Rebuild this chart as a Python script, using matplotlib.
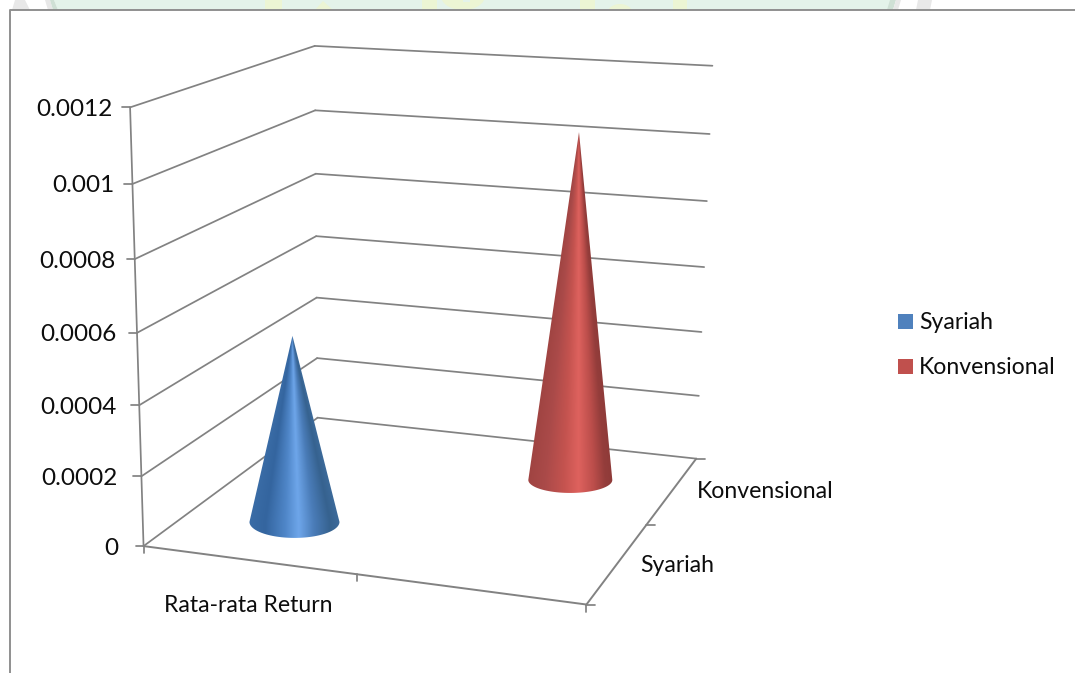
import numpy as np
import matplotlib
matplotlib.use('Agg')
import matplotlib.pyplot as plt
from matplotlib.colors import LinearSegmentedColormap
from matplotlib.patches import Ellipse, Polygon, Rectangle

plt.rcParams['font.family'] = ['Lato', 'DejaVu Sans']

value_ticks = [0, 0.0002, 0.0004, 0.0006, 0.0008, 0.001, 0.0012]
value_labels = ['0', '0.0002', '0.0004', '0.0006', '0.0008', '0.001', '0.0012']
series_names = ['Syariah', 'Konvensional']
category_name = 'Rata-rata Return'
series_values = [0.00054, 0.00104]

VMAX = value_ticks[-1]
GRID = '#828282'
TEXT = '#0d0d0d'

# box corners (x, depth, height) and where they land on the canvas
box_world = np.array([[0, 0, 0], [1, 0, 0], [0, 1, 0], [1, 1, 0],
                      [0, 0, 1], [0, 1, 1], [1, 1, 1]], float)
box_pixels = np.array([[145, 546], [586, 605], [316, 418], [697, 458],
                       [129, 107], [316, 46], [712, 66]], float)

# solve the camera matrix for the 3D box
rows, rhs = [], []
for (X, Y, Z), (u, v) in zip(box_world, box_pixels):
    rows.append([X, Y, Z, 1, 0, 0, 0, 0, -u * X, -u * Y, -u * Z])
    rhs.append(u)
    rows.append([0, 0, 0, 0, X, Y, Z, 1, -v * X, -v * Y, -v * Z])
    rhs.append(v)
cam = np.append(np.linalg.lstsq(np.array(rows), np.array(rhs), rcond=None)[0], 1).reshape(3, 4)


def project(x, depth, value):
    p = cam @ np.array([x, depth, value / VMAX, 1.0])
    return p[0] / p[2], p[1] / p[2]


def seg(ax, a, b, lw=1.25, color=GRID, z=2):
    ax.plot([a[0], b[0]], [a[1], b[1]], color=color, lw=lw, solid_capstyle='round', zorder=z)


fig = plt.figure(figsize=(10.75, 6.73), dpi=100)
ax = fig.add_axes([0, 0, 1, 1])
ax.set_xlim(0, 1075)
ax.set_ylim(673, 0)
ax.axis('off')

# faint page watermark above the chart frame
GREEN = '#e4f3ea'
YELLOW = '#ecf5d4'
PALE = '#e8e8e8'
EDGE = '#cfe0d5'
ax.add_patch(Polygon([(54, 0), (892, 0), (888, 10), (58, 10)], color=GREEN, lw=0, zorder=0))
for x0, w in [(265, 17), (422, 15), (580, 15), (673, 14)]:
    ax.add_patch(Rectangle((x0, 0), w, 10, color=YELLOW, lw=0, zorder=0.3))
ax.add_patch(Polygon([(323, 1), (333, 10), (315, 10)], color=YELLOW, lw=0, zorder=0.3))
ax.add_patch(Ellipse((463, -4), 44, 28, color=YELLOW, lw=0, zorder=0.3))
ax.add_patch(Rectangle((463, 0), 7, 2, color=GREEN, lw=0, zorder=0.4))
ax.add_patch(Ellipse((620, 14), 26, 20, color=YELLOW, lw=0, zorder=0.3))
ax.add_patch(Polygon([(15, 0), (25, 0), (30, 10), (12, 10)], color=PALE, lw=0, zorder=0.3))
ax.add_patch(Polygon([(45, 0), (50, 0), (53, 10), (48, 10)], color=PALE, lw=0, zorder=0.3))
ax.add_patch(Polygon([(50, 0), (54, 0), (58, 10), (53, 10)], color=EDGE, lw=0, zorder=0.3))
ax.add_patch(Polygon([(890, 0), (896, 0), (893, 10), (887, 10)], color=EDGE, lw=0, zorder=0.3))
ax.add_patch(Polygon([(896, 0), (901, 0), (898, 10), (893, 10)], color=PALE, lw=0, zorder=0.3))
ax.add_patch(Polygon([(918, 0), (932, 0), (930, 10), (916, 10)], color=PALE, lw=0, zorder=0.3))
ax.add_patch(Rectangle((0, 10), 1075, 663, color='white', lw=0, zorder=0.8))

# chart frame, open at the right and bottom
ax.plot([10, 10, 1075], [673, 10, 10], color='#8f8f8f', lw=1.4, zorder=1)

# walls and floor
for val, lab in zip(value_ticks, value_labels):
    front = project(0, 0, val)
    back = project(0, 1, val)
    right = project(1, 1, val)
    seg(ax, front, back)
    seg(ax, back, right)
    seg(ax, front, (front[0] - 8, front[1]))
    z = val / VMAX
    ax.text(front[0] - 25 + 8 * z, front[1] + 2, lab, ha='right', va='center',
            fontsize=17.5, color=TEXT, zorder=6)

seg(ax, project(0, 0, 0), project(0, 0, VMAX))
seg(ax, project(0, 0, 0), project(1, 0, 0), lw=1.4)
seg(ax, project(1, 0, 0), project(1, 1, 0), lw=1.4)

# tick marks on the floor edges
for x in [0, 0.5, 1]:
    p = project(x, 0, 0)
    seg(ax, p, (p[0], p[1] + 7))
for d in [0, 0.5, 1]:
    p = project(1, d, 0)
    seg(ax, p, (p[0] + 9, p[1]))

# floor labels
ax.text(248, 606, category_name, ha='center', va='center', fontsize=16.6, color=TEXT, zorder=6)
ax.text(640, 566, series_names[0], ha='left', va='center', fontsize=16.6, color=TEXT, zorder=6)
ax.text(697, 492, series_names[1], ha='left', va='center', fontsize=16.6, color=TEXT, zorder=6)

# cones: shading runs around the surface from one silhouette edge to the other
cone_x = [0.25, 0.754]
cone_depth = [0.2526, 0.7415]
cone_rx = [45, 42]
cone_ry = [16, 13]
cone_cmaps = [
    LinearSegmentedColormap.from_list('blue', [(0, '#3a6ca6'), (0.18, '#34659f'), (0.4, '#4f86c8'),
                                               (0.55, '#6ea6ea'), (0.72, '#4a7cb8'), (0.9, '#36628f'), (1, '#3c6a9a')]),
    LinearSegmentedColormap.from_list('red', [(0, '#a04442'), (0.2, '#aa4a49'), (0.42, '#c4534f'),
                                              (0.6, '#de625e'), (0.78, '#bc4e4b'), (0.92, '#943d3b'), (1, '#8f3b39')]),
]

for i, val in enumerate(series_values):
    bx, by = project(cone_x[i], cone_depth[i], 0)
    tx, ty = project(cone_x[i], cone_depth[i], val)
    rx, ry = cone_rx[i], cone_ry[i]
    t = np.linspace(0, np.pi, 60)
    outline = np.vstack([[[tx, ty]],
                         np.column_stack([bx + rx * np.cos(t), by + ry * np.sin(t)])])
    xs = np.arange(bx - rx - 6, max(bx, tx) + rx + 6, 0.5)
    ys = np.arange(ty - 2, by + ry + 3, 0.5)
    XX, YY = np.meshgrid(xs, ys)
    frac = np.clip((YY - ty) / (by - ty), 0.002, 1)
    uu = (XX - (tx + (bx - tx) * frac)) / (rx * frac)
    img = ax.imshow((uu + 1) / 2, cmap=cone_cmaps[i], vmin=0, vmax=1, origin='upper',
                    extent=(xs[0], xs[-1], ys[-1], ys[0]), aspect='auto', zorder=4,
                    interpolation='bilinear')
    img.set_clip_path(Polygon(outline, closed=True, transform=ax.transData))

ax.set_xlim(0, 1075)
ax.set_ylim(673, 0)

# legend
legend_colors = ['#4f81bd', '#c0504d']
for name, col, y in zip(series_names, legend_colors, [321.5, 366.5]):
    ax.add_patch(Rectangle((898, y - 7.5), 15, 15, color=col, lw=0, zorder=5))
    ax.text(919, y + 1, name, ha='left', va='center', fontsize=16.6, color=TEXT, zorder=6)

fig.savefig('out.png', dpi=100)
